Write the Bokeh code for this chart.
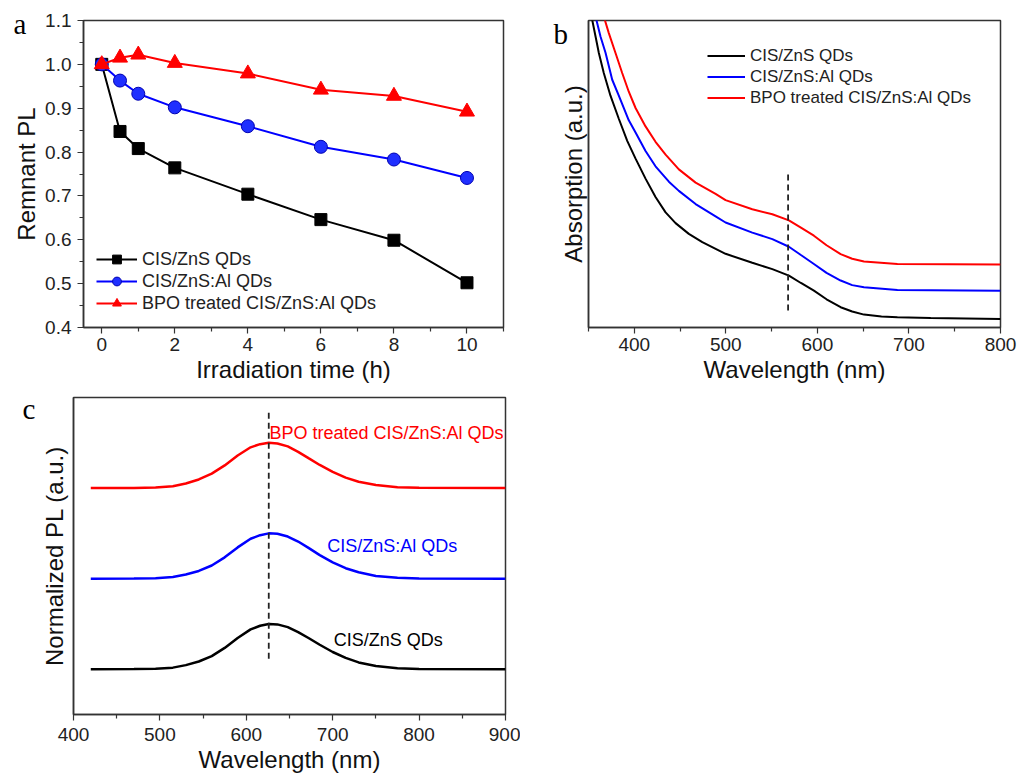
from bokeh.plotting import figure
from bokeh.layouts import row, column
from bokeh.models import (Range1d, FixedTicker, Legend, LegendItem, Label, Title, CustomJSTickFormatter)
from bokeh.embed import file_html
from bokeh.resources import INLINE

# ---------------- data: panel a ----------------
time_h = [0, 0.5, 1, 2, 4, 6, 8, 10]
pl_cis_zns = [1.0, 0.847, 0.808, 0.764, 0.704, 0.646, 0.599, 0.502]
pl_cis_zns_al = [1.0, 0.963, 0.933, 0.902, 0.859, 0.812, 0.783, 0.741]
pl_bpo = [1.0, 1.015, 1.022, 1.003, 0.979, 0.942, 0.928, 0.892]

# ---------------- data: panel b (absorption, a.u.) ----------------
abs_wl_black = [353.3, 357.7, 361.3, 366.7, 374, 383.1, 392.3, 401.4, 412.3, 423.2, 434.2, 445.1, 459.6, 474.3,
                499.7, 528.9, 550.8, 568.9, 582, 596.2, 610, 625.4, 638, 650.9, 670, 687.4, 723.8, 800]
abs_black = [1.013, 0.948, 0.894, 0.829, 0.755, 0.680, 0.608, 0.550, 0.485, 0.425, 0.375, 0.340, 0.305, 0.278,
             0.240, 0.211, 0.190, 0.169, 0.145, 0.120, 0.092, 0.066, 0.052, 0.042, 0.036, 0.033, 0.031, 0.028]
abs_wl_blue = [357.7, 363.1, 368.6, 375.9, 383.1, 394, 401.4, 412.3, 423.2, 437.8, 448.7, 467, 488.8, 499.7,
               528.9, 550.8, 568.9, 582, 596.2, 610, 625.4, 638, 650.9, 687.4, 800]
abs_blue = [1.013, 0.948, 0.895, 0.807, 0.755, 0.675, 0.635, 0.575, 0.525, 0.475, 0.445, 0.402, 0.362, 0.342,
            0.309, 0.288, 0.263, 0.236, 0.207, 0.178, 0.153, 0.138, 0.131, 0.122, 0.120]
abs_wl_red = [366.7, 372.2, 379.5, 386.8, 394, 401.4, 412.3, 423.2, 434.2, 448.7, 467, 488.8, 499.7, 528.9,
              550.8, 568.9, 582, 596.2, 610, 625.4, 638, 650.9, 687.4, 800]
abs_red = [1.013, 0.959, 0.894, 0.829, 0.768, 0.715, 0.655, 0.605, 0.563, 0.515, 0.472, 0.435, 0.415, 0.385,
           0.369, 0.349, 0.325, 0.299, 0.268, 0.239, 0.224, 0.215, 0.207, 0.205]
abs_marker_wl = [568, 568]
abs_marker_y = [0.055, 0.504]

# ---------------- data: panel c (normalized PL) ----------------
pl_wl = [420, 470, 495, 515, 530, 545, 560, 575, 590, 605, 616, 626, 636, 648, 660, 672, 685, 700, 715, 730, 750, 775, 800, 900]
npl_black = [0, 0.003, 0.01, 0.035, 0.09, 0.17, 0.29, 0.47, 0.69, 0.88, 0.96, 1.0, 0.99, 0.93, 0.82, 0.69, 0.54, 0.38, 0.25, 0.15, 0.07, 0.02, 0.005, 0]
npl_blue = [0, 0.003, 0.01, 0.035, 0.09, 0.17, 0.29, 0.47, 0.69, 0.88, 0.96, 1.0, 0.99, 0.93, 0.82, 0.68, 0.52, 0.36, 0.23, 0.14, 0.06, 0.02, 0.005, 0]
npl_red = [0, 0.003, 0.01, 0.04, 0.10, 0.19, 0.32, 0.50, 0.72, 0.90, 0.97, 1.0, 0.985, 0.92, 0.80, 0.66, 0.51, 0.36, 0.23, 0.14, 0.07, 0.02, 0.005, 0]
pl_offsets = [0, 2, 4]
pl_marker_wl = [626, 626]
pl_marker_y = [0.23, 5.71]

names = ["CIS/ZnS QDs", "CIS/ZnS:Al QDs", "BPO treated CIS/ZnS:Al QDs"]
colors = ["black", "#0000ff", "#ff0000"]
label_wl = [701.3, 693.6, 626.9]
label_y = [0.64, 2.71, 5.22]

FONT = "Liberation Sans"
SERIF = "Liberation Serif"
FRAME = "#333333"


def style(p, xticks, xminor):
    p.background_fill_color = "white"
    p.border_fill_color = "white"
    p.outline_line_color = FRAME
    p.outline_line_width = 1.5
    p.grid.visible = False
    for ax in p.axis:
        ax.axis_line_color = FRAME
        ax.axis_line_width = 1.5
        ax.major_tick_line_color = FRAME
        ax.minor_tick_line_color = FRAME
        ax.major_tick_line_width = 1.2
        ax.minor_tick_line_width = 1.2
        ax.major_tick_in = 0
        ax.minor_tick_in = 0
        ax.major_tick_out = 6
        ax.minor_tick_out = 4
        ax.major_label_text_font = FONT
        ax.major_label_text_font_size = "19px"
        ax.major_label_text_color = "#222222"
        ax.axis_label_text_font = FONT
        ax.axis_label_text_font_size = "24px"
        ax.axis_label_text_font_style = "normal"
        ax.axis_label_text_color = "#111111"
        ax.major_label_standoff = 4
        ax.axis_label_standoff = 2
    p.xaxis.ticker = FixedTicker(ticks=xticks, minor_ticks=xminor)


def letter(p, txt, offset, standoff):
    # panel letter drawn as a title that reaches into the corner beside the frame
    p.add_layout(Title(text=txt, align="left", offset=offset, standoff=standoff,
                       vertical_align="bottom",
                       text_font=SERIF, text_font_size="29px", text_font_style="normal",
                       text_color="black"), "above")


# ---------------- panel a ----------------
pa = figure(width=510, height=390, output_backend="svg", toolbar_location=None,
            x_range=Range1d(-0.5, 11), y_range=Range1d(0.4, 1.1),
            min_border_left=83, min_border_right=7, min_border_top=20, min_border_bottom=63)
style(pa, [0, 2, 4, 6, 8, 10], [1, 3, 5, 7, 9, 11])
pa.yaxis.ticker = FixedTicker(ticks=[0.4, 0.5, 0.6, 0.7, 0.8, 0.9, 1.0, 1.1],
                              minor_ticks=[0.45, 0.55, 0.65, 0.75, 0.85, 0.95, 1.05])
pa.yaxis.formatter = CustomJSTickFormatter(code="return tick.toFixed(1);")
pa.xaxis.axis_label = "Irradiation time (h)"
pa.yaxis.axis_label = "Remnant PL"
pa.yaxis.major_label_standoff = 6

la1 = pa.line(time_h, pl_cis_zns, line_color="black", line_width=2)
sa1 = pa.scatter(time_h, pl_cis_zns, marker="square", size=12, fill_color="black", line_color="black")
la2 = pa.line(time_h, pl_cis_zns_al, line_color="#0000ff", line_width=2)
sa2 = pa.scatter(time_h, pl_cis_zns_al, marker="circle", size=13, fill_color="#1f2fff", line_color="#0000b0")
la3 = pa.line(time_h, pl_bpo, line_color="#ff0000", line_width=2)
sa3 = pa.scatter(time_h, pl_bpo, marker="triangle", size=15, fill_color="#ff0000", line_color="#ff0000")

leg_a = Legend(items=[LegendItem(label=names[0], renderers=[la1, sa1]),
                      LegendItem(label=names[1], renderers=[la2, sa2]),
                      LegendItem(label=names[2], renderers=[la3, sa3])],
               location=(13, 13))
leg_a.label_text_font = FONT
leg_a.label_text_font_size = "18px"
leg_a.label_text_color = "#222222"
leg_a.glyph_width = 41
leg_a.glyph_height = 22
leg_a.label_height = 22
leg_a.spacing = 0
leg_a.padding = 0
leg_a.margin = 0
leg_a.label_standoff = 5
leg_a.border_line_color = None
leg_a.background_fill_alpha = 0
pa.add_layout(leg_a)
letter(pa, "a", -70, -39)

# ---------------- panel b ----------------
pb = figure(width=509, height=390, output_backend="svg", toolbar_location=None,
            x_range=Range1d(350, 800), y_range=Range1d(0, 1.0),
            min_border_left=78, min_border_right=19, min_border_top=20, min_border_bottom=63)
style(pb, [400, 500, 600, 700, 800], [350, 450, 550, 650, 750])
pb.yaxis.ticker = FixedTicker(ticks=[], minor_ticks=[])
pb.yaxis.major_tick_out = 0
pb.yaxis.minor_tick_out = 0
pb.xaxis.axis_label = "Wavelength (nm)"
pb.yaxis.axis_label = "Absorption (a.u.)"

lb1 = pb.line(abs_wl_black, abs_black, line_color="black", line_width=2)
lb2 = pb.line(abs_wl_blue, abs_blue, line_color="#0000ff", line_width=2)
lb3 = pb.line(abs_wl_red, abs_red, line_color="#ff0000", line_width=2)
pb.line(abs_marker_wl, abs_marker_y, line_color="#222222", line_width=1.8, line_dash="6 4")

leg_b = Legend(items=[LegendItem(label=names[0], renderers=[lb1]),
                      LegendItem(label=names[1], renderers=[lb2]),
                      LegendItem(label=names[2], renderers=[lb3])],
               location=(119, 219))
leg_b.label_text_font = FONT
leg_b.label_text_font_size = "17px"
leg_b.label_text_color = "#222222"
leg_b.glyph_width = 38
leg_b.glyph_height = 21
leg_b.label_height = 21
leg_b.spacing = 0
leg_b.padding = 0
leg_b.margin = 0
leg_b.label_standoff = 5
leg_b.border_line_color = None
leg_b.background_fill_alpha = 0
pb.add_layout(leg_b)
letter(pb, "b", -35, -59)

# ---------------- panel c ----------------
pc = figure(width=520, height=385, output_backend="svg", toolbar_location=None,
            x_range=Range1d(400, 900), y_range=Range1d(-1, 6),
            min_border_left=73, min_border_right=15, min_border_top=7, min_border_bottom=57)
style(pc, [400, 500, 600, 700, 800, 900], [450, 550, 650, 750, 850])
pc.yaxis.ticker = FixedTicker(ticks=[], minor_ticks=[])
pc.yaxis.major_tick_out = 0
pc.yaxis.minor_tick_out = 0
pc.xaxis.axis_label = "Wavelength (nm)"
pc.yaxis.axis_label = "Normalized PL (a.u.)"
pc.yaxis.axis_label_standoff = 6
pc.xaxis.major_label_standoff = 7

for ys, off, col in zip([npl_black, npl_blue, npl_red], pl_offsets, colors):
    pc.line(pl_wl, [v + off for v in ys], line_color=col, line_width=2.5)
pc.line(pl_marker_wl, pl_marker_y, line_color="#222222", line_width=1.8, line_dash="6 4")

for t, col, lx, ly in zip(names, colors, label_wl, label_y):
    pc.add_layout(Label(x=lx, y=ly, text=t, text_font=FONT, text_font_size="18px",
                        text_color=col, text_align="left", text_baseline="middle"))
letter(pc, "c", -51, -54)

layout = column(row(pa, pb), pc)
open("out.html", "w").write(file_html(layout, INLINE))
